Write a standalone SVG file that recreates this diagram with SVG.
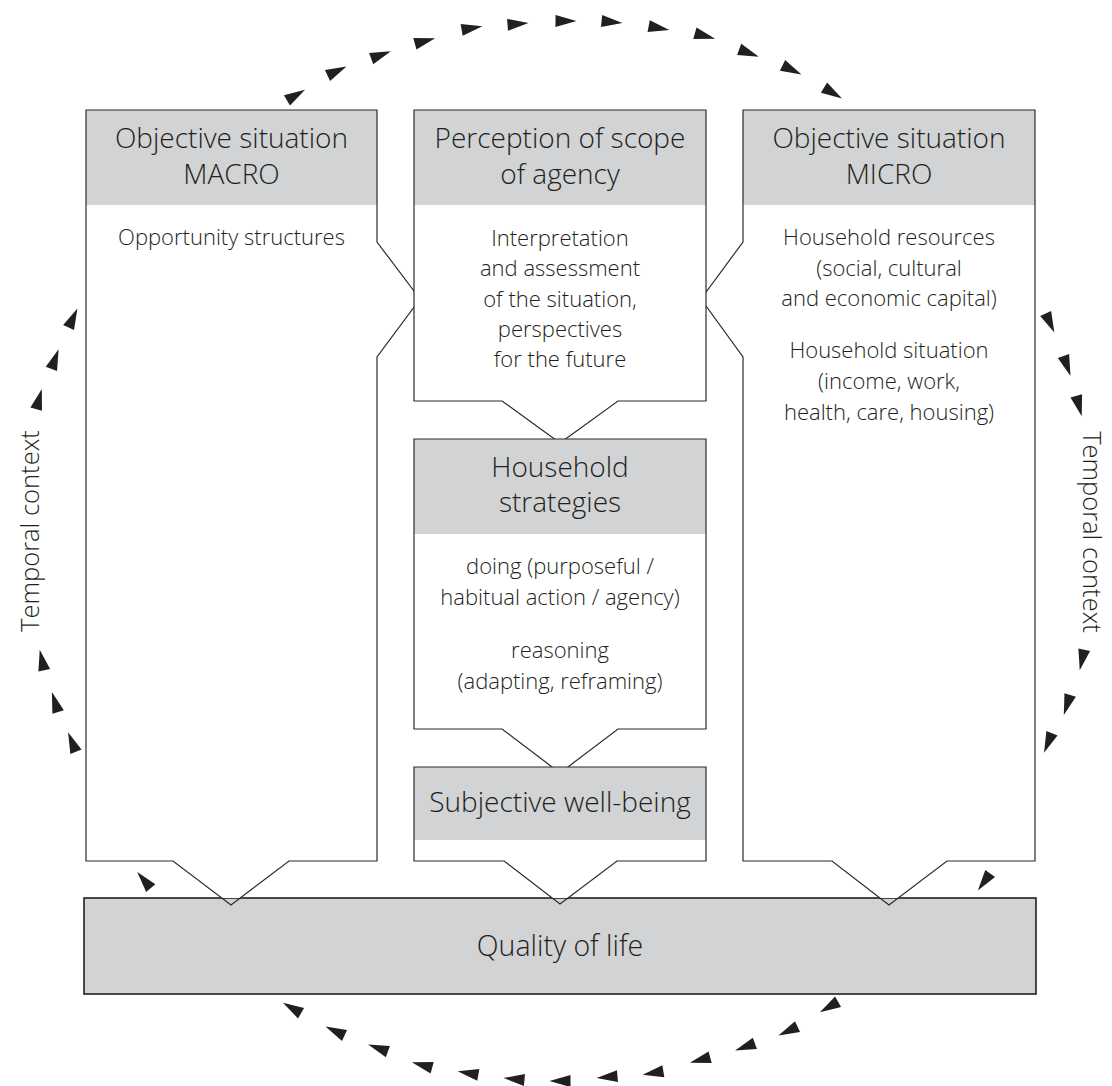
<svg xmlns="http://www.w3.org/2000/svg" xmlns:xlink="http://www.w3.org/1999/xlink" width="1112" height="1086" viewBox="0 0 1112 1086">
<style>
.fillw{fill:#ffffff;stroke:none}
.hdr{fill:#d1d3d4;stroke:none}
.outl{fill:none;stroke:#2b2b2b;stroke-width:1.2;stroke-linejoin:miter}
.qbox{fill:#d1d3d4;stroke:#231f20;stroke-width:1.6}
text{font-family:"Open Sans","Noto Sans","Liberation Sans",sans-serif;fill:#231f20;text-anchor:middle;font-weight:350}
.h{font-size:28px}
.q{font-size:28.5px}
.b{font-size:22px}
.t{font-size:25.5px}
.arr{fill:#231f20}
</style>
<defs>
<path id="tri" d="M10.5,0 L-10.5,-6 L-10.5,6 Z"/>
</defs>
<rect width="1112" height="1086" fill="#ffffff"/>

<g id="quality-of-life">
<rect class="qbox" x="84" y="898" width="952" height="96"/>
<text class="q" x="560" y="956">Quality of life</text>
</g>

<g id="objective-macro">
<polygon class="fillw" points="86,110 377,110 377,242 414,291 414,307.1 377,357 377,861 289,861 240.2,898 221.8,898 173,861 86,861"/>
<rect class="hdr" x="86" y="110" width="291" height="95"/>
<path class="outl" d="M86,110 L377,110 L377,242 L420,299 L377,357 L377,861 L289,861 L231,905 L173,861 L86,861 Z"/>
<text class="h" x="231.5" y="148">Objective situation</text>
<text class="h" x="231.5" y="184">MACRO</text>
<text class="b" x="231.5" y="245">Opportunity structures</text>
</g>

<g id="objective-micro">
<polygon class="fillw" points="743,110 1035,110 1035,861 947,861 898.2,898 879.9,898 832,861 743,861 743,357 706,305.9 706,292.2 743,242"/>
<rect class="hdr" x="743" y="110" width="292" height="95"/>
<path class="outl" d="M743,110 L1035,110 L1035,861 L947,861 L889,905 L832,861 L743,861 L743,357 L701,299 L743,242 Z"/>
<text class="h" x="889" y="148">Objective situation</text>
<text class="h" x="889" y="184">MICRO</text>
<text class="b" x="889" y="245">Household resources</text>
<text class="b" x="889" y="275.5">(social, cultural</text>
<text class="b" x="889" y="306">and economic capital)</text>
<text class="b" x="889" y="358">Household situation</text>
<text class="b" x="889" y="388.5">(income, work,</text>
<text class="b" x="889" y="419.5">health, care, housing)</text>
</g>

<g id="perception">
<polygon class="fillw" points="414,110 706,110 706,401 618,401 565.5,439 554.5,439 502,401 414,401"/>
<rect class="hdr" x="414" y="110" width="292" height="95"/>
<path class="outl" d="M414,110 L706,110 L706,401 L618,401 L560,443 L502,401 L414,401 Z"/>
<text class="h" x="560" y="148">Perception of scope</text>
<text class="h" x="560" y="184">of agency</text>
<text class="b" x="560" y="245.5">Interpretation</text>
<text class="b" x="560" y="276">and assessment</text>
<text class="b" x="560" y="306.5">of the situation,</text>
<text class="b" x="560" y="337">perspectives</text>
<text class="b" x="560" y="367">for the future</text>
</g>

<g id="household-strategies">
<polygon class="fillw" points="414,439 706,439 706,729 618,729 567.9,767 552.1,767 502,729 414,729"/>
<rect class="hdr" x="414" y="439" width="292" height="95"/>
<path class="outl" d="M414,439 L706,439 L706,729 L618,729 L560,773 L502,729 L414,729 Z"/>
<text class="h" x="560" y="477">Household</text>
<text class="h" x="560" y="512">strategies</text>
<text class="b" x="560" y="574">doing (purposeful /</text>
<text class="b" x="560" y="605">habitual action / agency)</text>
<text class="b" x="560" y="658">reasoning</text>
<text class="b" x="560" y="688.5">(adapting, reframing)</text>
</g>

<g id="subjective-well-being">
<polygon class="fillw" points="414,767 706,767 706,861 617,861 568,898 552.2,898 504,861 414,861"/>
<rect class="hdr" x="414" y="767" width="292" height="73"/>
<path class="outl" d="M414,767 L706,767 L706,861 L617,861 L560,904 L504,861 L414,861 Z"/>
<text class="h" x="560" y="812">Subjective well-being</text>
</g>

<g id="temporal-context-labels">
<text class="t" transform="translate(39,531) rotate(-90)">Temporal context</text>
<text class="t" transform="translate(1083,532) rotate(90)">Temporal context</text>
</g>

<g id="connectors" class="arr">
<use xlink:href="#tri" transform="translate(296,95) rotate(-30.6)"/>
<use xlink:href="#tri" transform="translate(337,71) rotate(-25.4)"/>
<use xlink:href="#tri" transform="translate(381,55) rotate(-20.3)"/>
<use xlink:href="#tri" transform="translate(425,41) rotate(-15.2)"/>
<use xlink:href="#tri" transform="translate(472,28) rotate(-9.9)"/>
<use xlink:href="#tri" transform="translate(518,24) rotate(-4.8)"/>
<use xlink:href="#tri" transform="translate(566,21) rotate(0.4)"/>
<use xlink:href="#tri" transform="translate(612,22) rotate(5.5)"/>
<use xlink:href="#tri" transform="translate(659,28) rotate(10.6)"/>
<use xlink:href="#tri" transform="translate(705,36) rotate(15.7)"/>
<use xlink:href="#tri" transform="translate(749,53) rotate(20.8)"/>
<use xlink:href="#tri" transform="translate(792,70) rotate(25.8)"/>
<use xlink:href="#tri" transform="translate(833,93) rotate(31)"/>

<use xlink:href="#tri" transform="translate(1050,323) rotate(65.5)"/>
<use xlink:href="#tri" transform="translate(1067,366) rotate(70.5)"/>
<use xlink:href="#tri" transform="translate(1079,406) rotate(75)"/>
<use xlink:href="#tri" transform="translate(1082,660) rotate(102.5)"/>
<use xlink:href="#tri" transform="translate(1067,705) rotate(107.6)"/>
<use xlink:href="#tri" transform="translate(1048,743) rotate(112.2)"/>
<use xlink:href="#tri" transform="translate(984,882) rotate(126)"/>

<use xlink:href="#tri" transform="translate(829,1007) rotate(150)"/>
<use xlink:href="#tri" transform="translate(788,1031) rotate(155.1)"/>
<use xlink:href="#tri" transform="translate(745,1047) rotate(160)"/>
<use xlink:href="#tri" transform="translate(700,1060) rotate(165)"/>
<use xlink:href="#tri" transform="translate(653,1073) rotate(170.2)"/>
<use xlink:href="#tri" transform="translate(607,1077) rotate(175.2)"/>
<use xlink:href="#tri" transform="translate(560,1081) rotate(180.2)"/>
<use xlink:href="#tri" transform="translate(514,1079) rotate(185.1)"/>
<use xlink:href="#tri" transform="translate(468,1073) rotate(190.1)"/>
<use xlink:href="#tri" transform="translate(422,1065) rotate(195.1)"/>
<use xlink:href="#tri" transform="translate(378,1048) rotate(200.1)"/>
<use xlink:href="#tri" transform="translate(335,1031) rotate(205)"/>
<use xlink:href="#tri" transform="translate(292,1008) rotate(210.3)"/>

<use xlink:href="#tri" transform="translate(144,880) rotate(-130)"/>
<use xlink:href="#tri" transform="translate(72,742) rotate(-111.9)"/>
<use xlink:href="#tri" transform="translate(55,702) rotate(-107.2)"/>
<use xlink:href="#tri" transform="translate(42,660) rotate(-102.5)"/>
<use xlink:href="#tri" transform="translate(39,399) rotate(-74.4)"/>
<use xlink:href="#tri" transform="translate(55,359) rotate(-69.9)"/>
<use xlink:href="#tri" transform="translate(73,318) rotate(-65.1)"/>
</g>
</svg>
